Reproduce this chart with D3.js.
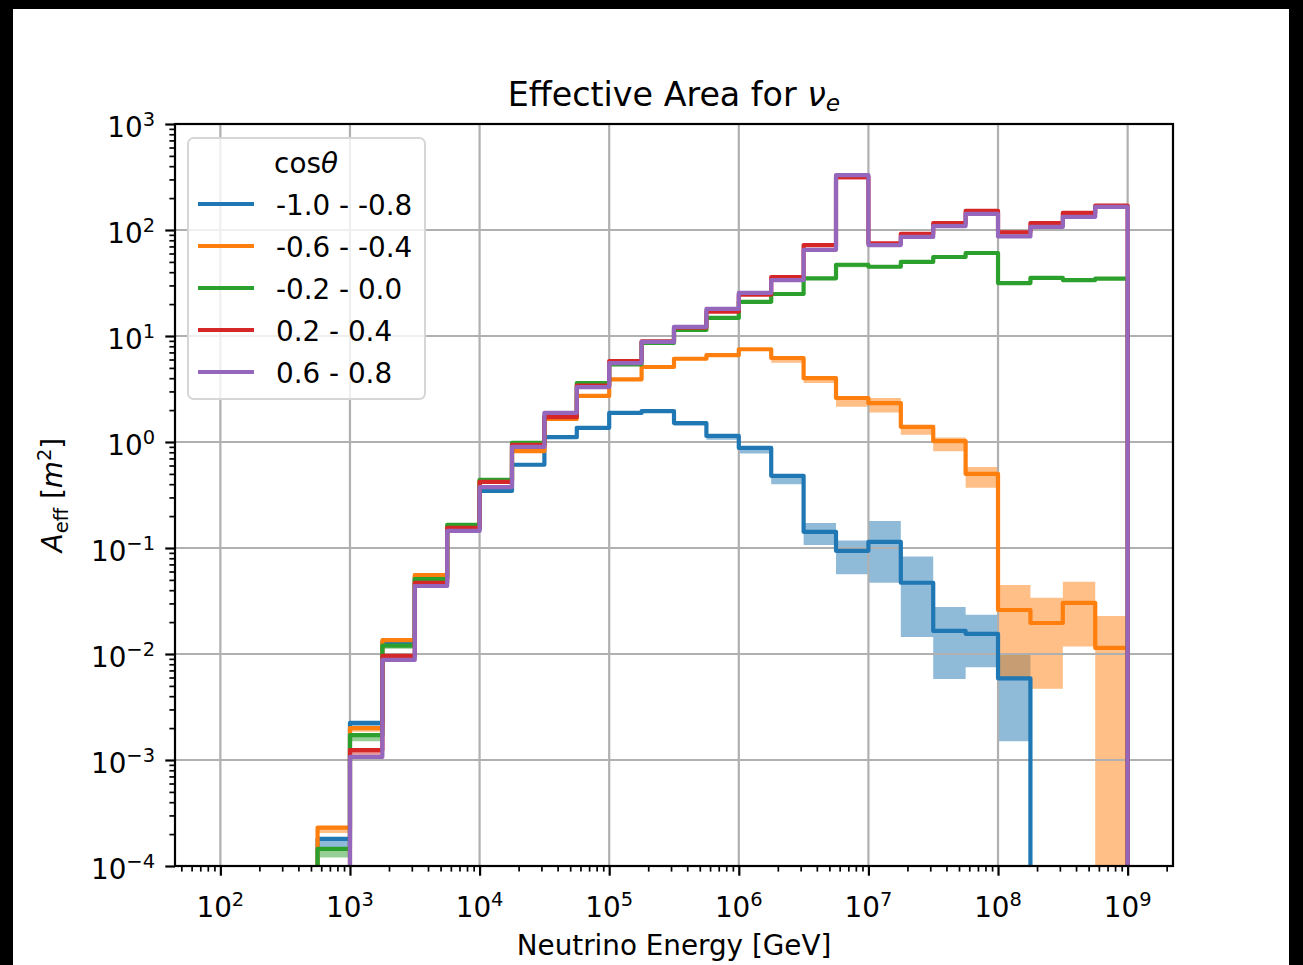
<!DOCTYPE html>
<html>
<head>
<meta charset="utf-8">
<script src="https://cdn.jsdelivr.net/npm/d3@7"></script>
<style>
  body { margin: 0; background: #000; }
  svg text { font-family: "DejaVu Sans", sans-serif; fill: #000; }
</style>
</head>
<body>
<svg id="chart" width="1303" height="965"></svg>
<script>
// Energy bin edges [GeV], quarter-decade bins from 1e2 to 1e9
const binEdges = [100, 177.83, 316.23, 562.34, 1000, 1778.3, 3162.3, 5623.4, 1e4, 17783, 31623, 56234,
  1e5, 177828, 316228, 562341, 1e6, 1778279, 3162278, 5623413, 1e7, 17782794, 31622777, 56234133,
  1e8, 177827941, 316227766, 562341325, 1e9];

// Effective area per bin [m^2] for each cos(theta) band
const blueVals   = [0, 0, 0, 1.8e-4, 2.24e-3, 0.013, 0.053, 0.15, 0.345, 0.61, 1.11, 1.36, 1.88, 1.96, 1.51, 1.14, 0.88, 0.48, 0.142, 0.094, 0.114, 0.047, 0.0165, 0.0155, 0.0059, 0, 0, 0];
const blueLo     = [null, null, null, 1.5e-4, 2.0e-3, 0.0122, 0.050, 0.143, 0.33, 0.59, 1.07, 1.31, 1.82, 1.86, 1.43, 1.05, 0.78, 0.40, 0.107, 0.0565, 0.047, 0.0145, 0.0058, 0.0075, 0.0015, null, null, null];
const blueHi     = [null, null, null, 1.8e-4, 2.24e-3, 0.013, 0.053, 0.15, 0.345, 0.61, 1.11, 1.36, 1.88, 1.96, 1.51, 1.14, 0.88, 0.48, 0.172, 0.118, 0.18, 0.083, 0.0278, 0.0235, 0.0102, null, null, null];

const orangeVals = [0, 0, 0, 2.3e-4, 2.0e-3, 0.0135, 0.0556, 0.16, 0.43, 0.82, 1.65, 2.72, 3.9, 5.1, 6.1, 6.6, 7.5, 6.2, 4.0, 2.6, 2.33, 1.39, 1.02, 0.50, 0.026, 0.0196, 0.0303, 0.0114];
const orangeLo   = [null, null, null, 2.05e-4, 1.85e-3, 0.0128, 0.053, 0.155, 0.41, 0.79, 1.60, 2.62, 3.78, 4.95, 5.9, 6.35, 7.2, 5.6, 3.6, 2.15, 1.9, 1.17, 0.82, 0.37, 0.0059, 0.0047, 0.0118, 1e-6];
const orangeHi   = [null, null, null, 2.3e-4, 2.0e-3, 0.0135, 0.0556, 0.16, 0.43, 0.82, 1.65, 2.72, 3.9, 5.1, 6.1, 6.6, 7.5, 6.2, 4.0, 2.6, 2.6, 1.45, 1.1, 0.58, 0.0448, 0.034, 0.048, 0.0228];

const greenVals  = [0, 0, 0, 1.45e-4, 1.72e-3, 0.012, 0.051, 0.165, 0.44, 0.98, 1.76, 3.6, 5.4, 8.6, 11.4, 14.8, 21, 24.9, 35, 47, 45, 50, 55.6, 60.7, 31.6, 35.3, 33.7, 34.8];
const greenLo    = [null, null, null, 1.2e-4, 1.5e-3, 0.0112, 0.049, 0.16, 0.43, 0.96, 1.73, 3.52, 5.3, 8.4, 11.1, 14.4, 20.4, 24.2, 34, 44.5, 43.5, 48.5, 54, 59, 30.5, 34.2, 32.6, 33.8];
const greenHi    = [null, null, null, 1.45e-4, 1.72e-3, 0.012, 0.051, 0.165, 0.44, 0.98, 1.76, 3.6, 5.4, 8.6, 11.4, 14.8, 21, 24.9, 35, 47, 45, 50, 55.6, 60.7, 31.6, 35.3, 33.7, 34.8];

const redVals    = [0, 0, 0, 0, 1.24e-3, 9.6e-3, 0.047, 0.155, 0.42, 0.94, 1.72, 3.4, 5.8, 8.9, 12, 17, 24.5, 36, 72, 315, 75, 92, 116, 152, 95, 116, 145, 170];
const redLo      = [null, null, null, null, 1.12e-3, 9.1e-3, 0.0455, 0.151, 0.41, 0.92, 1.69, 3.33, 5.68, 8.7, 11.7, 16.6, 23.9, 35.1, 70, 300, 73, 89.5, 113, 148, 92, 113, 141, 165];
const redHi      = [null, null, null, null, 1.24e-3, 9.6e-3, 0.047, 0.155, 0.42, 0.94, 1.72, 3.4, 5.8, 8.9, 12, 17, 24.5, 36, 72, 315, 75, 92, 116, 152, 95, 116, 145, 170];

const purpleVals = [0, 0, 0, 0, 1.07e-3, 8.8e-3, 0.0438, 0.145, 0.376, 0.90, 1.88, 3.3, 5.55, 8.8, 12.2, 18, 25.5, 33.6, 65, 330, 72, 86, 109, 142, 87, 107, 133, 165];
const purpleLo   = [null, null, null, null, 1.0e-3, 8.4e-3, 0.0425, 0.141, 0.366, 0.88, 1.84, 3.22, 5.42, 8.6, 11.9, 17.5, 24.8, 32.7, 63, 305, 70, 83.5, 106, 138, 84, 104, 129, 160];
const purpleHi   = [null, null, null, null, 1.07e-3, 8.8e-3, 0.0438, 0.145, 0.376, 0.90, 1.88, 3.3, 5.55, 8.8, 12.2, 18, 25.5, 33.6, 65, 345, 72, 86, 109, 142, 87, 107, 133, 165];

const seriesLabels = ["-1.0 - -0.8", "-0.6 - -0.4", "-0.2 - 0.0", "0.2 - 0.4", "0.6 - 0.8"];
const seriesColors = ["#1f77b4", "#ff7f0e", "#2ca02c", "#d62728", "#9467bd"];

// Tick labels (powers of ten)
const xTickExps = [2, 3, 4, 5, 6, 7, 8, 9];
const yTickExps = [-4, -3, -2, -1, 0, 1, 2, 3];

const series = [
  { vals: blueVals,   lo: blueLo,   hi: blueHi },
  { vals: orangeVals, lo: orangeLo, hi: orangeHi },
  { vals: greenVals,  lo: greenLo,  hi: greenHi },
  { vals: redVals,    lo: redLo,    hi: redHi },
  { vals: purpleVals, lo: purpleLo, hi: purpleHi }
].map((s, i) => ({ ...s, label: seriesLabels[i], color: seriesColors[i] }));

const W = 1303, H = 965;
const plot = { left: 175, right: 1173, top: 124, bottom: 866 };
const FS = 27.8;

const svg = d3.select("#chart");

// figure background inside the dark frame
svg.append("rect").attr("x", 13).attr("y", 9).attr("width", 1276).attr("height", H - 9).attr("fill", "#fff");

const x = d3.scaleLog().domain([Math.pow(10, 1.65), Math.pow(10, 9.35)]).range([plot.left, plot.right]);
const y = d3.scaleLog().domain([1e-4, 1e3]).range([plot.bottom, plot.top]);
const yPix = v => (v > 0 ? y(v) : y(1e-9));

svg.append("defs").append("clipPath").attr("id", "plotclip")
  .append("rect").attr("x", plot.left).attr("y", plot.top)
  .attr("width", plot.right - plot.left).attr("height", plot.bottom - plot.top);

const gFill = svg.append("g").attr("clip-path", "url(#plotclip)");
const gGrid = svg.append("g");
const gLines = svg.append("g").attr("clip-path", "url(#plotclip)");

// uncertainty bands
const area = d3.area()
  .defined(d => d.lo != null)
  .x(d => x(d.e))
  .y0(d => yPix(d.lo))
  .y1(d => yPix(d.hi));

series.forEach(s => {
  const pts = [];
  s.vals.forEach((v, i) => {
    pts.push({ e: binEdges[i], lo: s.lo[i], hi: s.hi[i] });
    pts.push({ e: binEdges[i + 1], lo: s.lo[i], hi: s.hi[i] });
  });
  gFill.append("path").attr("d", area(pts))
    .attr("fill", s.color).attr("fill-opacity", 0.5).attr("stroke", "none");
});

// grid at major decades
const xMajors = xTickExps.map(e => Math.pow(10, e));
const yMajors = yTickExps.map(e => Math.pow(10, e));
xMajors.forEach(v => {
  gGrid.append("line").attr("x1", x(v)).attr("x2", x(v)).attr("y1", plot.top).attr("y2", plot.bottom)
    .attr("stroke", "#b0b0b0").attr("stroke-width", 2.2);
});
yMajors.forEach(v => {
  gGrid.append("line").attr("x1", plot.left).attr("x2", plot.right).attr("y1", y(v)).attr("y2", y(v))
    .attr("stroke", "#b0b0b0").attr("stroke-width", 2.2);
});

// step histograms
const line = d3.line().x(d => x(d[0])).y(d => yPix(d[1]));
series.forEach(s => {
  const pts = [[binEdges[0], 0]];
  s.vals.forEach((v, i) => { pts.push([binEdges[i], v]); pts.push([binEdges[i + 1], v]); });
  pts.push([binEdges[s.vals.length], 0]);
  gLines.append("path").attr("d", line(pts))
    .attr("fill", "none").attr("stroke", s.color).attr("stroke-width", 4.2)
    .attr("stroke-linejoin", "round");
});

// spines
svg.append("rect").attr("x", plot.left).attr("y", plot.top)
  .attr("width", plot.right - plot.left).attr("height", plot.bottom - plot.top)
  .attr("fill", "none").attr("stroke", "#000").attr("stroke-width", 2.2);

// minor tick positions
function minors(scale) {
  const [a, b] = scale.domain();
  const out = [];
  for (let d = Math.floor(Math.log10(a)) - 1; d <= Math.ceil(Math.log10(b)); d++) {
    for (let k = 2; k <= 9; k++) {
      const v = k * Math.pow(10, d);
      if (v >= a && v <= b) out.push(v);
    }
  }
  return out;
}

const xAxisMajor = d3.axisBottom(x).tickValues(xMajors).tickSize(9.7).tickFormat("");
const xAxisMinor = d3.axisBottom(x).tickValues(minors(x)).tickSize(5.6).tickFormat("");
const yAxisMajor = d3.axisLeft(y).tickValues(yMajors).tickSize(9.7).tickFormat("");
const yAxisMinor = d3.axisLeft(y).tickValues(minors(y)).tickSize(5.6).tickFormat("");

function styleAxis(g, w) {
  g.select(".domain").remove();
  g.selectAll(".tick line").attr("stroke", "#000").attr("stroke-width", w);
}
svg.append("g").attr("transform", `translate(0,${plot.bottom})`).call(xAxisMinor).call(g => styleAxis(g, 1.7));
svg.append("g").attr("transform", `translate(0,${plot.bottom})`).call(xAxisMajor).call(g => styleAxis(g, 2.2));
svg.append("g").attr("transform", `translate(${plot.left},0)`).call(yAxisMinor).call(g => styleAxis(g, 1.7));
svg.append("g").attr("transform", `translate(${plot.left},0)`).call(yAxisMajor).call(g => styleAxis(g, 2.2));

// power-of-ten tick labels
function powLabel(g, exp, attrs) {
  const t = g.append("text").attr("font-size", FS);
  Object.entries(attrs).forEach(([k, v]) => t.attr(k, v));
  t.append("tspan").text("10");
  t.append("tspan").attr("font-size", FS * 0.7).attr("dy", -11)
    .text(exp < 0 ? "\u2212" + Math.abs(exp) : String(exp));
  return t;
}
const gLabels = svg.append("g");
xTickExps.forEach(e => {
  powLabel(gLabels, e, { x: x(Math.pow(10, e)), y: 917, "text-anchor": "middle" });
});
yTickExps.forEach(e => {
  powLabel(gLabels, e, { x: 155, y: y(Math.pow(10, e)) + 13, "text-anchor": "end" });
});

// axis titles
svg.append("text").attr("x", (plot.left + plot.right) / 2).attr("y", 955)
  .attr("text-anchor", "middle").attr("font-size", FS).text("Neutrino Energy [GeV]");

const yl = svg.append("text").attr("font-size", FS).attr("text-anchor", "middle")
  .attr("transform", `translate(62,${(plot.top + plot.bottom) / 2}) rotate(-90)`);
yl.append("tspan").attr("font-style", "italic").text("A");
yl.append("tspan").attr("font-size", FS * 0.7).attr("dy", 6).text("eff");
yl.append("tspan").attr("dy", -6).text(" [");
yl.append("tspan").attr("font-style", "italic").text("m");
yl.append("tspan").attr("font-size", FS * 0.7).attr("dy", -11).text("2");
yl.append("tspan").attr("dy", 11).text("]");

// title
const title = svg.append("text").attr("x", (plot.left + plot.right) / 2).attr("y", 106)
  .attr("text-anchor", "middle").attr("font-size", 33.3);
title.append("tspan").text("Effective Area for ");
title.append("tspan").attr("font-style", "italic").text("\u03bd");
title.append("tspan").attr("font-style", "italic").attr("font-size", 33.3 * 0.7).attr("dy", 5).text("e");

// legend
const leg = svg.append("g");
leg.append("rect").attr("x", 188).attr("y", 138).attr("width", 237).attr("height", 261)
  .attr("rx", 5.6).attr("ry", 5.6)
  .attr("fill", "#fff").attr("fill-opacity", 0.8)
  .attr("stroke", "#d6d6d6").attr("stroke-width", 2);
const lt = leg.append("text").attr("x", 306).attr("y", 173).attr("text-anchor", "middle").attr("font-size", FS);
lt.append("tspan").text("cos");
lt.append("tspan").attr("font-style", "italic").text("\u03b8");
series.forEach((s, i) => {
  const cy = 204 + i * 42;
  leg.append("line").attr("x1", 198).attr("x2", 254).attr("y1", cy).attr("y2", cy)
    .attr("stroke", s.color).attr("stroke-width", 4.2);
  leg.append("text").attr("x", 276).attr("y", cy + 11).attr("font-size", FS).text(s.label);
});
</script>
</body>
</html>
